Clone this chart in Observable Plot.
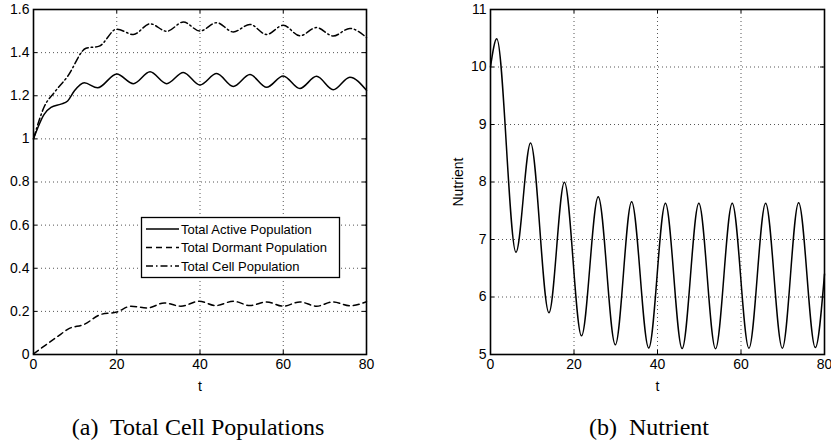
<!DOCTYPE html>
<html>
<head>
<meta charset="utf-8">
<script src="https://cdn.jsdelivr.net/npm/d3@7"></script>
<script src="https://cdn.jsdelivr.net/npm/@observablehq/plot@0.6"></script>
<style>
  html, body { margin: 0; padding: 0; background: #fff; }
  #wrap { position: relative; width: 831px; height: 448px; overflow: hidden; background: #fff; }
  #wrap > .panel { position: absolute; top: 0; }
  .cap { position: absolute; top: 414px; font-family: "Liberation Serif", serif; font-size: 24px; color: #000; white-space: pre; transform: translateX(-50%); }
  #legend { position: absolute; left: 0; top: 0; }
</style>
</head>
<body>
<div id="wrap"></div>
<script>
// ---- data ----
const xTicks = [0, 20, 40, 60, 80];
const xGrid = [20, 40, 60];
const popTicks = [0, 0.2, 0.4, 0.6, 0.8, 1, 1.2, 1.4, 1.6];
const popGrid = [0.2, 0.4, 0.6, 0.8, 1, 1.2, 1.4];
const nutTicks = [5, 6, 7, 8, 9, 10, 11];
const nutGrid = [6, 7, 8, 9, 10];

const tActive = [0, 2.6, 4.2, 6.6, 8.2, 9.8, 12.2, 15.4, 20, 24, 28, 32, 36, 40, 44, 48, 52, 56, 60, 64, 68, 72, 76, 80];
const active  = [1.0, 1.115, 1.146, 1.161, 1.176, 1.222, 1.260, 1.237, 1.301, 1.256, 1.311, 1.256, 1.308, 1.250, 1.303, 1.243, 1.298, 1.239, 1.292, 1.234, 1.290, 1.228, 1.286, 1.225];

const tDormant = [0, 3, 6.6, 8.2, 12.2, 16.2, 20, 23.4, 27.4, 31.4, 35.4, 39.8, 43.8, 48, 52, 56, 60, 64, 68, 72, 76, 80];
const dormant  = [0.003, 0.045, 0.095, 0.117, 0.140, 0.186, 0.197, 0.224, 0.216, 0.239, 0.224, 0.247, 0.227, 0.247, 0.227, 0.244, 0.224, 0.244, 0.224, 0.244, 0.226, 0.245];

const tTotal = [0, 2.6, 5, 8.2, 12.6, 15.8, 20, 24, 28, 32, 36, 40, 44, 48, 52, 56, 60, 64, 68, 72, 76, 80];
const total  = [1.0, 1.15, 1.215, 1.29, 1.42, 1.43, 1.509, 1.484, 1.534, 1.499, 1.542, 1.50, 1.539, 1.496, 1.531, 1.484, 1.527, 1.478, 1.516, 1.477, 1.512, 1.47];

const tNutrient = [0, 1.5, 6.1, 9.6, 14.0, 17.7, 21.8, 25.8, 29.9, 33.8, 37.9, 41.9, 45.9, 49.9, 53.9, 57.9, 61.9, 65.9, 69.9, 73.8, 77.8, 80];
const nutrient  = [10.0, 10.49, 6.78, 8.68, 5.725, 7.995, 5.325, 7.743, 5.171, 7.657, 5.114, 7.63, 5.103, 7.63, 5.10, 7.63, 5.11, 7.63, 5.11, 7.64, 5.12, 6.4];

const seriesNames = ["Total Active Population", "Total Dormant Population", "Total Cell Population"];
const seriesDash = ["none", "6,4", "7,3,1.5,3"];
const captions = ["(a)  Total Cell Populations", "(b)  Nutrient"];

// ---- build tables ----
const zip = (ts, vs, name) => ts.map((t, i) => ({t, v: vs[i], name}));
const popRows = [
  ...zip(tActive, active, seriesNames[0]),
  ...zip(tDormant, dormant, seriesNames[1]),
  ...zip(tTotal, total, seriesNames[2])
];
const nutRows = zip(tNutrient, nutrient, "Nutrient");

const FONT = "'Liberation Sans', Arial, sans-serif";
const H = 390, MT = 9, MB = 36;
const PH = H - MT - MB;

function panel({width, ml, mr, yDomain, yTicks, yGrid, ylabel, lines}) {
  const PW = width - ml - mr;
  const tk = 4;
  return Plot.plot({
    width, height: H, marginLeft: ml, marginRight: mr, marginTop: MT, marginBottom: MB,
    style: {fontFamily: FONT, fontSize: "14px", color: "#000", background: "transparent", overflow: "visible"},
    x: {domain: [0, 80]},
    y: {domain: yDomain},
    marks: [
      Plot.gridX(xGrid, {stroke: "#555", strokeOpacity: 1, strokeWidth: 1, strokeDasharray: "1,3"}),
      Plot.gridY(yGrid, {stroke: "#555", strokeOpacity: 1, strokeWidth: 1, strokeDasharray: "1,3"}),
      Plot.tickX(xTicks, {x: d => d, insetBottom: PH - tk, stroke: "#000"}),
      Plot.tickX(xTicks, {x: d => d, insetTop: PH - tk, stroke: "#000"}),
      Plot.tickY(yTicks, {y: d => d, insetRight: PW - tk, stroke: "#000"}),
      Plot.tickY(yTicks, {y: d => d, insetLeft: PW - tk, stroke: "#000"}),
      ...lines,
      Plot.frame({stroke: "#000", strokeWidth: 1.6}),
      Plot.axisX(xTicks, {tickSize: 0, tickPadding: 5, tickFormat: d => String(d), fontSize: 14,
        label: "t", labelAnchor: "center", labelArrow: "none", labelOffset: 36}),
      Plot.axisY(yTicks, {tickSize: 0, tickPadding: 4, tickFormat: d => String(d), fontSize: 14,
        label: ylabel, labelAnchor: "center", labelArrow: "none", labelOffset: 37})
    ]
  });
}

const wrap = document.getElementById("wrap");

const popLines = seriesNames.map((n, i) =>
  Plot.line(popRows.filter(d => d.name === n), {x: "t", y: "v", stroke: "#000", strokeWidth: 1.5,
    strokeDasharray: seriesDash[i] === "none" ? null : seriesDash[i], curve: "monotone-x"}));

const left = panel({width: 415, ml: 33, mr: 49, yDomain: [0, 1.6], yTicks: popTicks, yGrid: popGrid, ylabel: null, lines: popLines});
left.classList.add("panel");
left.style.left = "0px";
wrap.appendChild(left);

const right = panel({width: 416, ml: 75, mr: 7, yDomain: [5, 11], yTicks: nutTicks, yGrid: nutGrid, ylabel: "Nutrient",
  lines: [Plot.line(nutRows, {x: "t", y: "v", stroke: "#000", strokeWidth: 1.5, curve: "monotone-x"})]});
right.classList.add("panel");
right.style.left = "415px";
wrap.appendChild(right);

// ---- legend (left panel) ----
const lg = d3.select(wrap).append("svg").attr("id", "legend")
  .attr("width", 831).attr("height", 448)
  .style("font-family", FONT).style("font-size", "13px");
lg.append("rect").attr("x", 141.5).attr("y", 217.5).attr("width", 198).attr("height", 60)
  .attr("fill", "#fff").attr("stroke", "#000").attr("stroke-width", 1.3);
seriesNames.forEach((n, i) => {
  const y = 229 + i * 18.5;
  lg.append("line").attr("x1", 146).attr("x2", 179).attr("y1", y).attr("y2", y)
    .attr("stroke", "#000").attr("stroke-width", 1.3)
    .attr("stroke-dasharray", seriesDash[i] === "none" ? null : seriesDash[i]);
  lg.append("text").attr("x", 181).attr("y", y).attr("dy", "0.35em").text(n);
});

// ---- captions ----
[[198, captions[0]], [649, captions[1]]].forEach(([cx, txt]) => {
  const d = document.createElement("div");
  d.className = "cap";
  d.style.left = cx + "px";
  d.textContent = txt;
  wrap.appendChild(d);
});
</script>
</body>
</html>
